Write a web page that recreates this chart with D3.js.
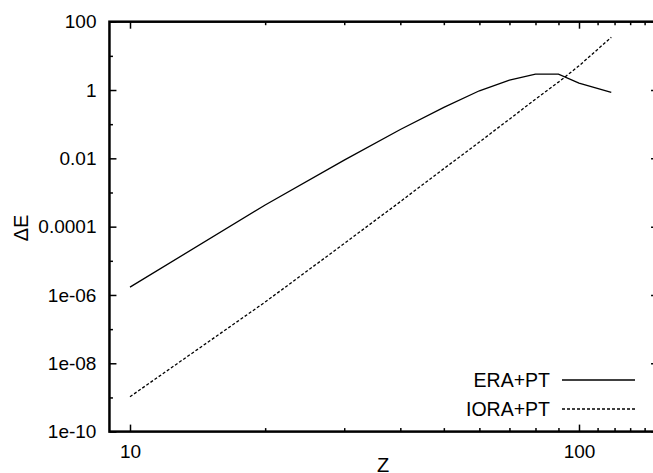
<!DOCTYPE html>
<html>
<head>
    <meta charset="utf-8">
    <title>deltaE vs Z</title>
    <style>
        body { margin: 0; background: #fff; }
        svg { display: block; }
        text { font-family: "Liberation Sans", Arial, Helvetica, sans-serif; fill: #000; }
        .tick line { stroke: #000; stroke-width: 1.5px; }
        .tick text { font-size: 19px; }
    </style>
</head>
<body>
    <svg id="chart" width="653" height="473"></svg>

    <script src="https://d3js.org/d3.v7.min.js"></script>
    <script>
        // data
        var zValues = [10, 20, 30, 40, 50, 60, 70, 80, 90, 100, 118];
        var eraPT = [1.7e-6, 4.3e-4, 8.9e-3, 0.070, 0.31, 0.95, 1.95, 2.9, 2.9, 1.6, 0.85];
        var ioraPT = [1.05e-9, 6.2e-7, 3.2e-5, 5.4e-4, 5.0e-3, 0.030, 0.14, 0.54, 1.7, 5.1, 35];
        var seriesNames = ["ERA+PT", "IORA+PT"];

        var yMajor = [1e-10, 1e-8, 1e-6, 1e-4, 1e-2, 1, 100];
        var yLabels = ["1e-10", "1e-08", "1e-06", "0.0001", "0.01", "1", "100"];
        var yMinor = [1e-9, 1e-7, 1e-5, 1e-3, 0.1, 10];
        var xMajor = [10, 100];
        var xMinor = [20, 30, 40, 50, 60, 70, 80, 90, 110, 120, 130, 140];

        var svg = d3.select("#chart");

        // 10 -> 130px, 100 -> 579px
        var perDecade = 449;
        var x = d3.scaleLog()
            .domain([9, 150])
            .range([130 + (Math.log10(9) - 1) * perDecade, 130 + (Math.log10(150) - 1) * perDecade]);
        var y = d3.scaleLog()
            .domain([1e-10, 100])
            .range([431.6, 21.7]);

        var x0 = x.range()[0], x1 = x.range()[1],
            y0 = y.range()[0], y1 = y.range()[1];

        // major ticks with labels, minor ticks, mirrored on right/top
        svg.append("g")
            .attr("transform", "translate(" + x0 + ",0)")
            .call(d3.axisLeft(y).tickValues(yMajor).tickSize(-7).tickPadding(13)
                .tickFormat(function (d, i) { return yLabels[i]; }));
        svg.append("g")
            .attr("transform", "translate(" + x0 + ",0)")
            .call(d3.axisLeft(y).tickValues(yMinor).tickSize(-3.5).tickFormat(""));
        svg.append("g")
            .attr("transform", "translate(" + x1 + ",0)")
            .call(d3.axisRight(y).tickValues(yMajor).tickSize(-7).tickFormat(""));
        svg.append("g")
            .attr("transform", "translate(" + x1 + ",0)")
            .call(d3.axisRight(y).tickValues(yMinor).tickSize(-3.5).tickFormat(""));

        svg.append("g")
            .attr("transform", "translate(0," + y0 + ")")
            .call(d3.axisBottom(x).tickValues(xMajor).tickSize(-7).tickPadding(13)
                .tickFormat(d3.format("d")));
        svg.append("g")
            .attr("transform", "translate(0," + y0 + ")")
            .call(d3.axisBottom(x).tickValues(xMinor).tickSize(-3.5).tickFormat(""));
        svg.append("g")
            .attr("transform", "translate(0," + y1 + ")")
            .call(d3.axisTop(x).tickValues(xMajor).tickSize(-7).tickFormat(""));
        svg.append("g")
            .attr("transform", "translate(0," + y1 + ")")
            .call(d3.axisTop(x).tickValues(xMinor).tickSize(-3.5).tickFormat(""));

        svg.selectAll(".domain").remove();

        // frame
        svg.append("rect")
            .attr("x", x0)
            .attr("y", y1)
            .attr("width", x1 - x0)
            .attr("height", y0 - y1)
            .attr("fill", "none")
            .attr("stroke", "#000")
            .attr("stroke-width", 2.5);

        var line = d3.line()
            .x(function (d) { return x(d[0]); })
            .y(function (d) { return y(d[1]); });

        var series = [
            { name: seriesNames[0], values: d3.zip(zValues, eraPT), dash: null },
            { name: seriesNames[1], values: d3.zip(zValues, ioraPT), dash: "3,2" }
        ];

        svg.selectAll("path.curve")
            .data(series)
            .join("path")
            .attr("class", "curve")
            .attr("d", function (d) { return line(d.values); })
            .attr("fill", "none")
            .attr("stroke", "#000")
            .attr("stroke-width", 1.3)
            .attr("stroke-dasharray", function (d) { return d.dash; });

        // legend
        var legend = svg.append("g")
            .selectAll("g")
            .data(series)
            .join("g")
            .attr("transform", function (d, i) { return "translate(0," + (380 + i * 29) + ")"; });
        legend.append("text")
            .attr("x", 550)
            .attr("dy", "0.35em")
            .attr("text-anchor", "end")
            .style("font-size", "19.5px")
            .text(function (d) { return d.name; });
        legend.append("line")
            .attr("x1", 562)
            .attr("x2", 635)
            .attr("stroke", "#000")
            .attr("stroke-width", 1.3)
            .attr("stroke-dasharray", function (d) { return d.dash; });

        // axis titles
        svg.append("text")
            .attr("transform", "translate(21,228) rotate(-90)")
            .attr("text-anchor", "middle")
            .attr("dy", "0.35em")
            .style("font-size", "20px")
            .text("ΔE");
        svg.append("text")
            .attr("x", 383)
            .attr("y", 472)
            .attr("text-anchor", "middle")
            .style("font-size", "20px")
            .text("Z");
    </script>
</body>
</html>
